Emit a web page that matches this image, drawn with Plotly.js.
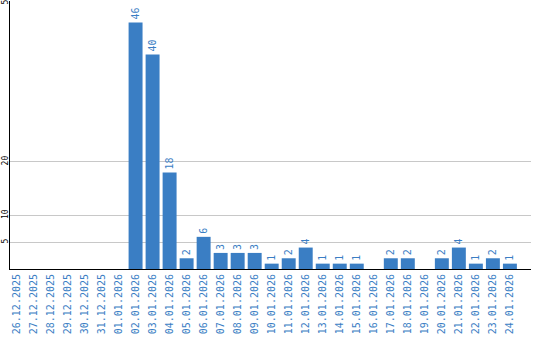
<!DOCTYPE html>
<html><head><meta charset="utf-8">
<script src="https://cdn.plot.ly/plotly-3.0.1.min.js"></script>
<style>html,body{margin:0;padding:0;background:#fff}#c{width:540px;height:340px}</style>
</head><body><div id="c"></div>
<script>
const dates = ["26.12.2025","27.12.2025","28.12.2025","29.12.2025","30.12.2025","31.12.2025",
"01.01.2026","02.01.2026","03.01.2026","04.01.2026","05.01.2026","06.01.2026","07.01.2026",
"08.01.2026","09.01.2026","10.01.2026","11.01.2026","12.01.2026","13.01.2026","14.01.2026",
"15.01.2026","16.01.2026","17.01.2026","18.01.2026","19.01.2026","20.01.2026","21.01.2026",
"22.01.2026","23.01.2026","24.01.2026"];
const counts = [0,0,0,0,0,0,0,46,40,18,2,6,3,3,3,1,2,4,1,1,1,0,2,2,0,2,4,1,2,1];
const yTicks = [5,10,20,50];

const blue = "rgb(58,126,196)";
const font = "DejaVu Sans Mono, monospace";
const idx = dates.map((d,i)=>i);
const trace = {
  type: "bar",
  x: idx,
  y: counts,
  marker: {color: blue},
  text: counts.map(v => v > 0 ? String(v) : ""),
  textposition: "outside",
  textangle: -90,
  constraintext: "none",
  cliponaxis: false,
  textfont: {family: font, size: 10, color: blue},
  hoverinfo: "none"
};
const layout = {
  width: 540, height: 340,
  margin: {l: 10, r: 9, t: 1, b: 71},
  paper_bgcolor: "#fff", plot_bgcolor: "#fff",
  bargap: 0.18,
  showlegend: false,
  xaxis: {
    range: [-0.38, 30.24],
    tickmode: "array", tickvals: idx, ticktext: dates,
    tickangle: -90,
    tickfont: {family: font, size: 10, color: blue},
    showgrid: false, zeroline: false,
    showline: true, linecolor: "#000", linewidth: 1,
    ticks: "", automargin: false
  },
  yaxis: {
    range: [0, 50],
    tickmode: "array", tickvals: yTicks,
    tickangle: -90,
    ticklabeloverflow: "allow",
    ticklabelstandoff: -2,
    tickfont: {family: font, size: 8, color: "#000"},
    showgrid: true, gridcolor: "#c8c8c8", gridwidth: 1,
    zeroline: false,
    showline: true, linecolor: "#000", linewidth: 1,
    ticks: "", automargin: false
  }
};
Plotly.newPlot("c", [trace], layout, {displayModeBar: false, staticPlot: true});
</script></body></html>
